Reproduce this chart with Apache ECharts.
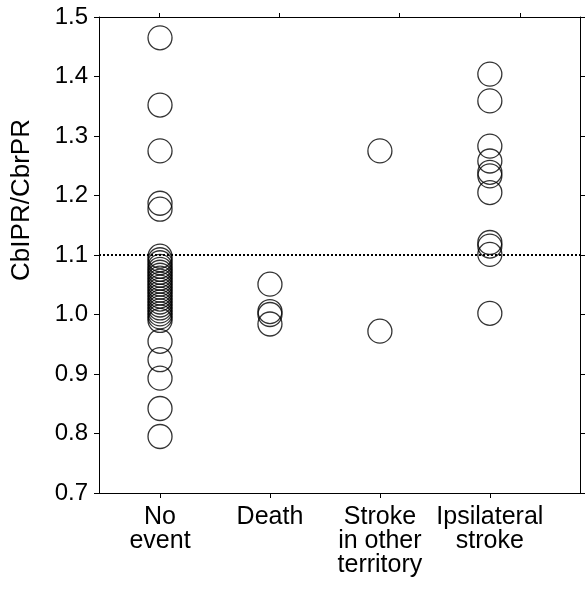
<!DOCTYPE html>
<html>
<head>
<meta charset="utf-8">
<script src="https://cdn.jsdelivr.net/npm/echarts@6/dist/echarts.min.js"></script>
<style>
  html, body { margin: 0; padding: 0; background: #fff; }
  #chart { width: 586px; height: 589px; }
</style>
</head>
<body>
<div id="chart"></div>
<script>
// groups and their x positions
let groupNames = ['No\nevent', 'Death', 'Stroke\nin other\nterritory', 'Ipsilateral\nstroke'];
let groupPos = [1, 2, 3, 4];

// CbIPR/CbrPR values
let noEvent = [1.465, 1.352, 1.275, 1.187, 1.177,
    1.098, 1.092, 1.087, 1.081, 1.076, 1.071, 1.066, 1.061, 1.056, 1.051,
    1.046, 1.041, 1.036, 1.031, 1.026, 1.021, 1.016, 1.011, 1.006, 1.001,
    0.996, 0.990, 0.955, 0.924, 0.893, 0.842, 0.795];
let death = [1.051, 1.005, 1.000, 0.984];
let strokeOther = [1.275, 0.972];
let ipsilateral = [1.404, 1.359, 1.283, 1.258, 1.239, 1.233, 1.205, 1.121, 1.115, 1.101, 1.002];

let cutoff = 1.1;

let chart = echarts.init(document.getElementById('chart'));

let groups = [noEvent, death, strokeOther, ipsilateral];
let font = '"Liberation Sans", Arial, Helvetica, sans-serif';

let series = groups.map(function (vals, i) {
    return {
        type: 'scatter',
        symbol: 'circle',
        symbolSize: 24,
        itemStyle: { color: 'rgba(0,0,0,0)', borderColor: '#000', borderWidth: 1.3 },
        data: vals.map(function (v) { return [groupPos[i], v]; }),
        z: 3
    };
});

series.push({
    type: 'line',
    data: [],
    markLine: {
        silent: true,
        symbol: 'none',
        label: { show: false },
        lineStyle: { color: '#000', type: [2, 2], width: 2 },
        data: [{ yAxis: cutoff }]
    }
});

let option = {
    animation: false,
    backgroundColor: '#fff',
    textStyle: { fontFamily: font },
    grid: { left: 99, right: 6, top: 17, bottom: 96 },
    xAxis: [{
        type: 'value',
        min: 0.445,
        max: 4.82,
        position: 'bottom',
        axisLine: { lineStyle: { color: '#000', width: 1 } },
        axisTick: { show: true, length: 5, customValues: groupPos, lineStyle: { color: '#000' } },
        axisLabel: {
            customValues: groupPos,
            color: '#000',
            fontSize: 25,
            lineHeight: 24,
            margin: 12,
            fontFamily: font,
            formatter: function (v) { return groupNames[groupPos.indexOf(Math.round(v))] || ''; }
        },
        splitLine: { show: false }
    }, {
        type: 'category',
        data: groupNames,
        position: 'top',
        boundaryGap: true,
        axisLine: { lineStyle: { color: '#000', width: 1 } },
        axisTick: { show: true, alignWithLabel: true, length: 4, lineStyle: { color: '#000' } },
        axisLabel: { show: false },
        splitLine: { show: false }
    }],
    yAxis: [{
        type: 'value',
        min: 0.7,
        max: 1.5,
        interval: 0.1,
        name: 'CbIPR/CbrPR',
        nameLocation: 'middle',
        nameGap: 64,
        nameTextStyle: { color: '#000', fontSize: 26, fontFamily: font, padding: [0, 0, 0, 110] },
        axisLine: { show: true, lineStyle: { color: '#000', width: 1 } },
        axisTick: { show: true, length: 5, lineStyle: { color: '#000' } },
        axisLabel: {
            color: '#000', fontSize: 24, margin: 11, fontFamily: font,
            formatter: function (v) { return v.toFixed(1); }
        },
        splitLine: { show: false }
    }, {
        type: 'value',
        min: 0.7,
        max: 1.5,
        interval: 0.1,
        position: 'right',
        axisLine: { show: true, lineStyle: { color: '#000', width: 1 } },
        axisTick: { show: true, length: 5, lineStyle: { color: '#000' } },
        axisLabel: { show: false },
        splitLine: { show: false }
    }],
    series: series
};

chart.setOption(option);
</script>
</body>
</html>
